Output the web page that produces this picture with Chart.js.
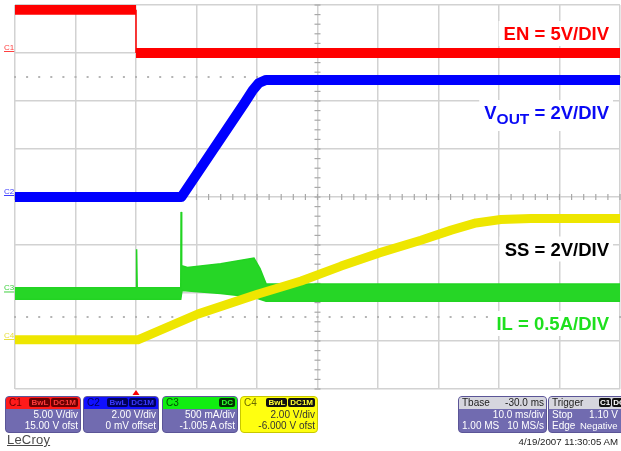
<!DOCTYPE html>
<html>
<head>
<meta charset="utf-8">
<script src="https://cdn.jsdelivr.net/npm/chart.js@4.4.0/dist/chart.umd.min.js"></script>
<style>
html,body{margin:0;padding:0;background:#fff;}
#wrap{position:relative;width:621px;height:451px;overflow:hidden;font-family:"Liberation Sans",Arial,sans-serif;}
#wrap canvas{position:absolute;left:0;top:0;width:621px;height:451px;}
.box{position:absolute;top:396px;height:37px;border-radius:4px;background:#716bb0;border:1px solid #5b5597;overflow:hidden;color:#fff;font-size:10px;line-height:11px;box-sizing:border-box;}
.hdr{position:relative;height:12px;line-height:12px;}
.row{position:relative;height:11px;}
.l{position:absolute;left:3px;top:0;white-space:nowrap;}
.r{position:absolute;right:2px;top:0;white-space:nowrap;}
.bd{display:inline-block;font-size:8px;line-height:9px;padding:0 2px;margin-left:1px;border-radius:2px;font-weight:bold;vertical-align:1px;}
#lecroy{position:absolute;left:7px;top:432px;font-size:13px;color:#4a4a4a;text-decoration:underline;letter-spacing:0.2px;}
#date{position:absolute;right:3px;top:436px;font-size:9.7px;color:#222;}
</style>
</head>
<body>
<div id="wrap">
  <canvas id="c" width="621" height="451"></canvas>

  <div class="box" style="left:5px;width:76px;">
    <div class="hdr" style="background:#ff1a1a;"><span class="l" style="color:#6a0000;">C1</span><span class="r"><span class="bd" style="background:#6a0000;color:#ff3a3a;">BwL</span><span class="bd" style="background:#6a0000;color:#ff3a3a;">DC1M</span></span></div>
    <div class="row"><span class="r">5.00 V/div</span></div>
    <div class="row"><span class="r">15.00 V ofst</span></div>
  </div>

  <div class="box" style="left:83px;width:76px;">
    <div class="hdr" style="background:#1010ff;"><span class="l" style="color:#00005a;">C2</span><span class="r"><span class="bd" style="background:#00005a;color:#3a3aff;">BwL</span><span class="bd" style="background:#00005a;color:#3a3aff;">DC1M</span></span></div>
    <div class="row"><span class="r">2.00 V/div</span></div>
    <div class="row"><span class="r">0 mV offset</span></div>
  </div>

  <div class="box" style="left:162px;width:76px;">
    <div class="hdr" style="background:#10ee10;"><span class="l" style="color:#005000;">C3</span><span class="r"><span class="bd" style="background:#003000;color:#30ff30;">DC</span></span></div>
    <div class="row"><span class="r">500 mA/div</span></div>
    <div class="row"><span class="r">-1.005 A ofst</span></div>
  </div>

  <div class="box" style="left:240px;width:78px;background:#ffff10;border-color:#c8c800;color:#333;">
    <div class="hdr"><span class="l" style="color:#6a6a00;">C4</span><span class="r"><span class="bd" style="background:#111;color:#ffff30;">BwL</span><span class="bd" style="background:#111;color:#ffff30;">DC1M</span></span></div>
    <div class="row"><span class="r">2.00 V/div</span></div>
    <div class="row"><span class="r">-6.000 V ofst</span></div>
  </div>

  <div class="box" style="left:458px;width:89px;">
    <div class="hdr" style="background:#d6d6de;color:#222;"><span class="l">Tbase</span><span class="r">-30.0 ms</span></div>
    <div class="row"><span class="r">10.0 ms/div</span></div>
    <div class="row"><span class="l">1.00 MS</span><span class="r">10 MS/s</span></div>
  </div>

  <div class="box" style="left:548px;width:80px;">
    <div class="hdr" style="background:#d6d6de;color:#222;"><span class="l">Trigger</span><span class="l" style="left:49px;"><span class="bd" style="background:#111;color:#fff;padding:0 1px;">C1</span><span class="bd" style="background:#111;color:#fff;padding:0 1px;">DC</span></span></div>
    <div class="row"><span class="l">Stop</span><span class="r" style="right:9px;">1.10 V</span></div>
    <div class="row"><span class="l">Edge</span><span class="l" style="left:31px;font-size:9.5px;">Negative</span></div>
  </div>

  <div id="lecroy">LeCroy</div>
  <div id="date">4/19/2007 11:30:05 AM</div>
</div>

<script>
// ---- channel settings (per division, offset) ----
const channelNames   = ['C1', 'C2', 'C3', 'C4'];
const channelPerDiv  = [5, 2, 0.5, 2];          // V/div, V/div, A/div, V/div
const channelOffset  = [15, 0, -1.005, -6];     // V, V, A, V
const timeWindow     = [-20, 80];               // ms (10 ms/div)

// ---- traces (time in ms, values in volts / amps) ----
const enTime   = [-20, 0, 0, 80];
const enVolts  = [4.5, 4.5, 0, 0];

const voutTime  = [-20, 7.5, 17.9, 19.3, 20.3, 21.5, 80];
const voutVolts = [0, 0, 3.9, 4.45, 4.75, 4.88, 4.88];

const ssTime  = [-20, 0.3, 10.2, 20.2, 27.3, 33.9, 40.2, 47.1, 52.1, 56.2, 60.3, 65.3, 80];
const ssVolts = [0.05, 0.05, 1.12, 1.96, 2.5, 3.12, 3.67, 4.2, 4.62, 4.92, 5.06, 5.1, 5.1];

const ilUpperTime = [-20, 0, 0.1, 0.2, 7.4, 7.45, 7.55, 8.5, 14, 19.5, 20.5, 21.5, 80];
const ilUpperAmps = [0.06, 0.06, 0.46, 0.06, 0.06, 0.85, 0.29, 0.27, 0.31, 0.37, 0.26, 0.10, 0.10];
const ilLowerTime = [-20, 7.4, 7.6, 14, 19.5, 21.5, 80];
const ilLowerAmps = [-0.06, -0.06, 0.03, 0.0, -0.04, -0.08, -0.08];

function pts(xs, ys) { return xs.map((x, i) => ({ x: x, y: ys[i] })); }
function chScale(i) {
  return { type: 'linear', display: false,
           min: -4 * channelPerDiv[i] - channelOffset[i],
           max:  4 * channelPerDiv[i] - channelOffset[i] };
}

const FONT = '"Liberation Sans", Arial, sans-serif';

const scopeOverlay = {
  id: 'scopeOverlay',
  beforeDatasetsDraw(chart) {
    const { ctx, scales } = chart;
    const x = scales.x, yg = scales.yg;
    const xc = x.getPixelForValue((timeWindow[0] + timeWindow[1]) / 2);
    const yc = yg.getPixelForValue(0);
    ctx.save();
    ctx.fillStyle = '#a8a8a8';
    for (let t = timeWindow[0]; t <= timeWindow[1] + 1e-6; t += 2) {
      const px = x.getPixelForValue(t);
      ctx.fillRect(px - 0.6, yc - 3, 1.2, 6);
    }
    for (let d = -4; d <= 4 + 1e-6; d += 0.2) {
      const py = yg.getPixelForValue(d);
      ctx.fillRect(xc - 3, py - 0.6, 6, 1.2);
    }
    ctx.fillStyle = '#b4b4b4';
    for (const d of [2.5, -2.5]) {
      const py = yg.getPixelForValue(d);
      for (let t = timeWindow[0]; t <= timeWindow[1] + 1e-6; t += 2) {
        const px = x.getPixelForValue(t);
        ctx.fillRect(px - 1, py - 1, 2, 2);
      }
    }
    ctx.restore();
  },
  afterDatasetsDraw(chart) {
    const { ctx, scales } = chart;
    ctx.save();
    // channel ground markers
    const mColors = ['#ff4040', '#4040ff', '#40d040', '#e8e040'];
    ctx.font = '8px ' + FONT;
    ctx.textBaseline = 'alphabetic';
    ctx.textAlign = 'left';
    channelNames.forEach((n, i) => {
      const py = scales['y' + (i + 1)].getPixelForValue(0);
      ctx.fillStyle = mColors[i];
      ctx.fillText(n, 4, py - 3);
      const w = ctx.measureText(n).width;
      ctx.fillRect(4, py - 2, w, 1);
    });
    // trigger marker
    const tx = scales.x.getPixelForValue(0);
    const bottom = chart.chartArea.bottom;
    ctx.fillStyle = '#ff0000';
    ctx.beginPath();
    ctx.moveTo(tx, bottom + 1);
    ctx.lineTo(tx + 3.5, bottom + 6);
    ctx.lineTo(tx - 3.5, bottom + 6);
    ctx.closePath();
    ctx.fill();

    // annotations
    const right = 609;
    const big = 'bold 18.5px ' + FONT, small = 'bold 15.5px ' + FONT;
    const items = [
      { parts: [['EN = 5V/DIV', big, 0]], color: '#ff0000', base: 40 },
      { parts: [['V', big, 0], ['OUT', small, 5], [' = 2V/DIV', big, 0]], color: '#0a0af5', base: 119 },
      { parts: [['SS = 2V/DIV', big, 0]], color: '#000000', base: 255.5 },
      { parts: [['IL = 0.5A/DIV', big, 0]], color: '#1ee01e', base: 330 }
    ];
    items.forEach(it => {
      let total = 0;
      const widths = it.parts.map(p => { ctx.font = p[1]; const w = ctx.measureText(p[0]).width; total += w; return w; });
      let x0 = right - total;
      ctx.fillStyle = '#ffffff';
      const extra = it.parts.length > 1 ? 6 : 0;
      ctx.fillRect(x0 - 5, it.base - 19, total + 9, 25 + extra);
      ctx.fillStyle = it.color;
      ctx.textAlign = 'left';
      it.parts.forEach((p, k) => {
        ctx.font = p[1];
        ctx.fillText(p[0], x0, it.base + p[2]);
        x0 += widths[k];
      });
    });
    ctx.restore();
  }
};

const ctxEl = document.getElementById('c');
new Chart(ctxEl, {
  type: 'line',
  data: {
    datasets: [
      { label: 'EN', data: pts(enTime, enVolts), yAxisID: 'y1',
        borderColor: '#ff0000', borderWidth: 10, clip: 0,
        segment: { borderWidth: c => (c.p0.parsed.x === c.p1.parsed.x ? 1.5 : undefined) } },
      { label: 'VOUT', data: pts(voutTime, voutVolts), yAxisID: 'y2',
        borderColor: '#0000ff', borderWidth: 10, borderJoinStyle: 'round', clip: 0 },
      { label: 'SS', data: pts(ssTime, ssVolts), yAxisID: 'y4',
        borderColor: '#eee600', borderWidth: 9, borderJoinStyle: 'round', clip: 0 },
      { label: 'IL max', data: pts(ilUpperTime, ilUpperAmps), yAxisID: 'y3',
        borderColor: '#22d422', borderWidth: 1.5, clip: 0, fill: false },
      { label: 'IL min', data: pts(ilLowerTime, ilLowerAmps), yAxisID: 'y3',
        borderColor: '#22d422', borderWidth: 1.5, clip: 0,
        fill: '-1', backgroundColor: '#26d626' }
    ]
  },
  options: {
    responsive: false,
    animation: false,
    events: [],
    layout: { padding: { left: 15, right: 1, top: 5, bottom: 62 } },
    elements: { point: { radius: 0 }, line: { tension: 0 } },
    plugins: { legend: { display: false }, tooltip: { enabled: false }, title: { display: false } },
    scales: {
      x: { type: 'linear', min: timeWindow[0], max: timeWindow[1],
           ticks: { display: false, stepSize: 10 },
           grid: { color: '#d2d2d2', lineWidth: 1.5, drawTicks: false },
           border: { display: false } },
      yg: { type: 'linear', position: 'left', min: -4, max: 4,
            ticks: { display: false, stepSize: 1 },
            grid: { color: '#d2d2d2', lineWidth: 1.5, drawTicks: false },
            border: { display: false } },
      y1: chScale(0), y2: chScale(1), y3: chScale(2), y4: chScale(3)
    }
  },
  plugins: [scopeOverlay]
});
</script>
</body>
</html>
